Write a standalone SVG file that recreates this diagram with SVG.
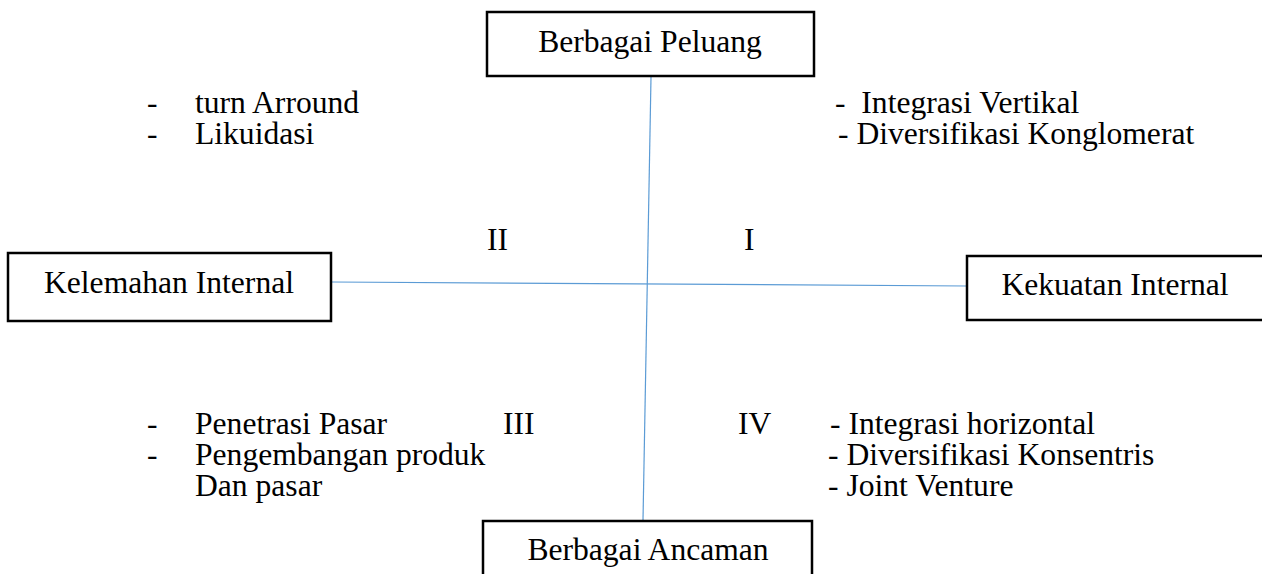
<svg xmlns="http://www.w3.org/2000/svg" width="1262" height="574" viewBox="0 0 1262 574">
<style>
.box{fill:#fff;stroke:#000;stroke-width:2.5}
.t{font-family:"Liberation Serif","Times New Roman",serif;font-size:31.6px;fill:#000}
.c{text-anchor:middle}
.ln{stroke:#5B9BD5;stroke-width:1.2;fill:none}
</style>
<rect width="1262" height="574" fill="#fff"/>
<g id="connectors">
<line class="ln" x1="651" y1="77" x2="643" y2="520"/>
<line class="ln" x1="332" y1="282" x2="967" y2="286"/>
</g>
<g id="node-peluang">
<rect class="box" x="487" y="12" width="327" height="64"/>
<text class="t c" x="650" y="52">Berbagai Peluang</text>
</g>
<g id="node-kelemahan">
<rect class="box" x="8" y="253" width="323" height="68"/>
<text class="t c" x="169" y="293">Kelemahan Internal</text>
</g>
<g id="node-kekuatan">
<rect class="box" x="967" y="256" width="310" height="64"/>
<text class="t c" x="1115" y="295">Kekuatan Internal</text>
</g>
<g id="node-ancaman">
<rect class="box" x="483" y="521" width="329" height="70"/>
<text class="t c" x="648" y="560">Berbagai Ancaman</text>
</g>
<g id="quadrant-II">
<text class="t"><tspan x="147" y="113">-</tspan><tspan x="195" y="113">turn Arround</tspan><tspan x="147" y="144">-</tspan><tspan x="195" y="144">Likuidasi</tspan></text>
<text class="t" x="487" y="250">II</text>
</g>
<g id="quadrant-I">
<text class="t" xml:space="preserve"><tspan x="835" y="113">-  Integrasi Vertikal</tspan><tspan x="838" y="144">- Diversifikasi Konglomerat</tspan></text>
<text class="t" x="744" y="250">I</text>
</g>
<g id="quadrant-III">
<text class="t"><tspan x="147" y="434">-</tspan><tspan x="195" y="434">Penetrasi Pasar</tspan><tspan x="147" y="465">-</tspan><tspan x="195" y="465">Pengembangan produk</tspan><tspan x="195" y="496">Dan pasar</tspan></text>
<text class="t" x="503" y="434">III</text>
</g>
<g id="quadrant-IV">
<text class="t" x="738" y="434">IV</text>
<text class="t"><tspan x="830" y="434">- Integrasi horizontal</tspan><tspan x="828" y="465">- Diversifikasi Konsentris</tspan><tspan x="828" y="496">- Joint Venture</tspan></text>
</g>
</svg>
